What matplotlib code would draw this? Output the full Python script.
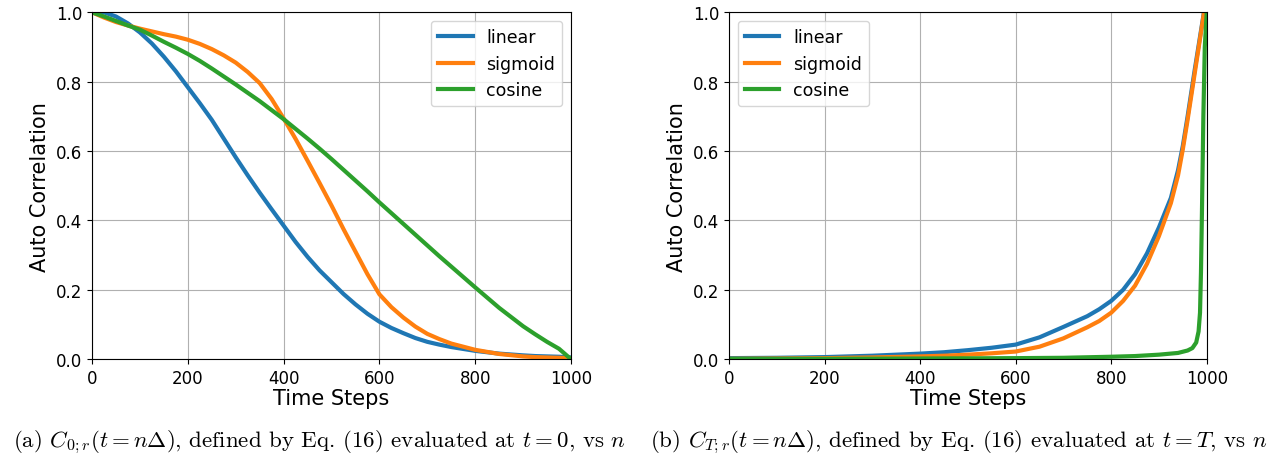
import matplotlib
matplotlib.use("Agg")
import matplotlib.pyplot as plt

plt.rcParams["mathtext.fontset"] = "cm"

# values (time step -> auto correlation)
steps_0 = [0, 25, 50, 75, 100, 125, 150, 175, 200, 225, 250, 275, 300, 325, 350, 375,
           400, 425, 450, 475, 500, 525, 550, 575, 600, 625, 650, 675, 700, 725, 750,
           800, 850, 900, 925, 950, 975, 1000]
linear_0 = [1.0, 1.0, 0.988, 0.968, 0.942, 0.91, 0.872, 0.83, 0.784, 0.738, 0.69, 0.636,
            0.582, 0.53, 0.48, 0.432, 0.385, 0.338, 0.295, 0.256, 0.222, 0.188, 0.158,
            0.131, 0.108, 0.09, 0.075, 0.061, 0.05, 0.042, 0.035, 0.024, 0.016, 0.011,
            0.009, 0.008, 0.007, 0.005]
sigmoid_0 = [1.0, 0.985, 0.972, 0.962, 0.953, 0.945, 0.937, 0.93, 0.921, 0.909, 0.894,
             0.876, 0.855, 0.828, 0.796, 0.75, 0.694, 0.635, 0.572, 0.508, 0.443, 0.375,
             0.31, 0.245, 0.187, 0.15, 0.12, 0.094, 0.073, 0.058, 0.045, 0.027, 0.015,
             0.008, 0.006, 0.005, 0.004, 0.003]
cosine_0 = [1.0, 0.988, 0.975, 0.962, 0.95, 0.933, 0.915, 0.898, 0.88, 0.86, 0.838, 0.815,
            0.792, 0.768, 0.744, 0.718, 0.692, 0.664, 0.636, 0.607, 0.577, 0.546, 0.515,
            0.484, 0.452, 0.421, 0.39, 0.359, 0.328, 0.297, 0.267, 0.207, 0.148, 0.095,
            0.072, 0.05, 0.03, 0.0]

steps_T = [0, 100, 200, 300, 400, 450, 500, 550, 600, 650, 700, 750, 775, 800, 825, 850,
           875, 900, 925, 940, 950, 960, 975, 1000]
linear_T = [0.003, 0.004, 0.006, 0.01, 0.016, 0.02, 0.026, 0.033, 0.042, 0.063, 0.093,
            0.124, 0.144, 0.168, 0.2, 0.245, 0.305, 0.38, 0.465, 0.545, 0.615, 0.70,
            0.835, 1.05]
sigmoid_T = [0.001, 0.002, 0.003, 0.005, 0.008, 0.01, 0.013, 0.017, 0.022, 0.036, 0.06,
             0.092, 0.11, 0.134, 0.168, 0.212, 0.275, 0.355, 0.45, 0.53, 0.605, 0.69,
             0.825, 1.05]
steps_T_cos = [0, 200, 400, 600, 700, 800, 850, 900, 940, 960, 970, 978, 983, 986, 988,
               990, 993, 996, 1000]
cosine_T = [0.001, 0.001, 0.002, 0.003, 0.004, 0.007, 0.009, 0.013, 0.018, 0.025, 0.032,
            0.048, 0.08, 0.134, 0.25, 0.42, 0.7, 0.9, 1.0]

captions = [r"(a) $C_{0;r}(t = n\Delta)$, defined by Eq. $(16)$ evaluated at $t = 0$, vs $n$",
            r"(b) $C_{T;r}(t = n\Delta)$, defined by Eq. $(16)$ evaluated at $t = T$, vs $n$"]

fig = plt.figure(figsize=(12.84, 4.6), dpi=100)
ax1 = fig.add_axes([0.0717, 0.217, 0.373, 0.754])
ax2 = fig.add_axes([0.5678, 0.217, 0.372, 0.754])

ax1.plot(steps_0, linear_0, lw=3, label="linear")
ax1.plot(steps_0, sigmoid_0, lw=3, label="sigmoid")
ax1.plot(steps_0, cosine_0, lw=3, label="cosine")

ax2.plot(steps_T, linear_T, lw=3, label="linear")
ax2.plot(steps_T, sigmoid_T, lw=3, label="sigmoid")
ax2.plot(steps_T_cos, cosine_T, lw=3, label="cosine")

for ax, loc in [(ax1, "upper right"), (ax2, "upper left")]:
    ax.set_xlim(0, 1000)
    ax.set_ylim(0, 1)
    ax.grid(True)
    ax.tick_params(labelsize=12)
    ax.set_xlabel("Time Steps", fontsize=15, labelpad=1)
    ax.set_ylabel("Auto Correlation", fontsize=15)
    ax.legend(loc=loc, fontsize=12.5)

fig.text(0.249, 0.028, captions[0], fontsize=16.5, family="cmr10", ha="center")
fig.text(0.747, 0.028, captions[1], fontsize=16.5, family="cmr10", ha="center")

fig.savefig("out.png", dpi=100)
